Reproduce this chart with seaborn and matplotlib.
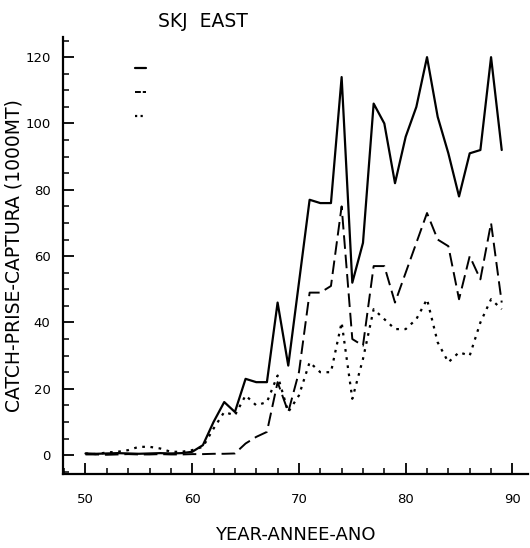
import numpy as np
import pandas as pd
import matplotlib
matplotlib.use('Agg')
import matplotlib.pyplot as plt
import seaborn as sns
from matplotlib.ticker import MultipleLocator
from matplotlib.lines import Line2D

# data (catch in 1000 MT)
years = list(range(50, 90))
solid_vals = [0.5, 0.4, 0.5, 0.6, 0.5, 0.4, 0.5, 0.6, 0.5, 0.6,
              1.0, 3.0, 10, 16, 13, 23, 22, 22, 46, 27,
              52, 77, 76, 76, 114, 52, 64, 106, 100, 82,
              96, 105, 120, 102, 91, 78, 91, 92, 120, 92]
dashed_vals = [0.2, 0.2, 0.1, 0.2, 0.3, 0.2, 0.2, 0.3, 0.2, 0.2,
               0.3, 0.3, 0.4, 0.4, 0.5, 3.5, 5.5, 7, 22, 13,
               25, 49, 49, 51, 75, 35, 33, 57, 57, 46,
               55, 64, 73, 65, 63, 47, 60, 53, 70, 46]
dotted_vals = [0.5, 0.3, 0.8, 1.0, 1.5, 2.5, 2.5, 2.0, 1.0, 1.0,
               1.5, 2.5, 8, 13, 12, 18, 15, 16, 24, 13,
               18, 28, 25, 25, 40, 17, 29, 44, 41, 38,
               38, 41, 47, 34, 28, 31, 30, 40, 47, 44]

df = pd.DataFrame({'Year': years, 'solid': solid_vals,
                   'dashed': dashed_vals, 'dotted': dotted_vals})

sns.set_style('ticks')
plt.rcParams['font.family'] = ['DejaVu Sans']
plt.rcParams['text.color'] = 'black'
plt.rcParams['axes.labelcolor'] = 'black'
plt.rcParams['xtick.color'] = 'black'
plt.rcParams['ytick.color'] = 'black'

fig = plt.figure(figsize=(5.3, 5.48), dpi=100)
ax = fig.add_axes([0.119, 0.135, 0.878, 0.797])

sns.lineplot(data=df, x='Year', y='solid', ax=ax, color='black', linewidth=1.6)
sns.lineplot(data=df, x='Year', y='dashed', ax=ax, color='black', linewidth=1.4,
             linestyle=(0, (7, 3)))
sns.lineplot(data=df, x='Year', y='dotted', ax=ax, color='black', linewidth=1.6,
             linestyle=(0, (1.2, 2.5)))

ax.set_xlim(47.9, 91.5)
ax.set_ylim(-5.7, 126)
ax.xaxis.set_major_locator(MultipleLocator(10))
ax.xaxis.set_minor_locator(MultipleLocator(2))
ax.yaxis.set_major_locator(MultipleLocator(20))
ax.yaxis.set_minor_locator(MultipleLocator(5))
ax.tick_params(which='major', direction='in', length=8, width=1.3, labelsize=9.5, pad=9)
ax.tick_params(which='minor', direction='in', length=4, width=1.1)
ax.tick_params(axis='x', which='major', pad=14)

for s in ['top', 'right']:
    ax.spines[s].set_visible(False)
for s in ['left', 'bottom']:
    ax.spines[s].set_linewidth(1.6)
    ax.spines[s].set_color('black')

ax.set_xlabel('YEAR-ANNEE-ANO', fontsize=13, labelpad=14)
ax.set_ylabel('CATCH-PRISE-CAPTURA (1000MT)', fontsize=13.5)
ax.yaxis.set_label_coords(-0.085, 0.5)
fig.text(0.383, 0.96, 'SKJ  EAST', fontsize=13.5, ha='center', va='center')

handles = [Line2D([], [], color='black', lw=1.6),
           Line2D([], [], color='black', lw=1.4, linestyle=(0, (3, 1))),
           Line2D([], [], color='black', lw=1.6, linestyle=(0, (1, 1.5)))]
fig.legend(handles, ['', '', ''], loc='upper left', bbox_to_anchor=(0.255, 0.888),
           frameon=False, handlelength=0.8, labelspacing=0.75, fontsize=10,
           borderpad=0, borderaxespad=0, handletextpad=0)

fig.savefig('out.png', dpi=100)
